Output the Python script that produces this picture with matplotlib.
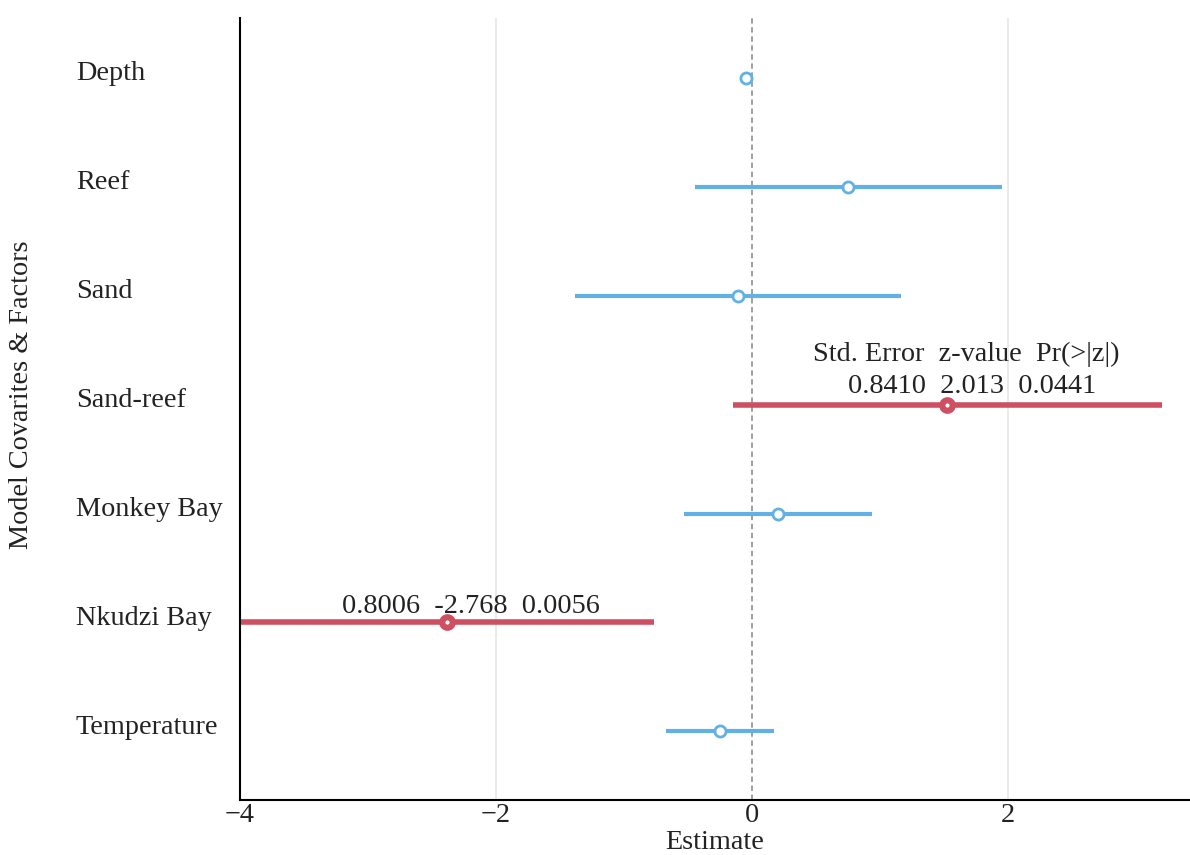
import matplotlib
matplotlib.use("Agg")
import matplotlib.pyplot as plt
import matplotlib.transforms as mtransforms

plt.rcParams['font.family'] = ['Liberation Serif', 'DejaVu Serif']
plt.rcParams['mathtext.fontset'] = 'stix'

factors = ["Depth", "Reef", "Sand", "Sand-reef", "Monkey Bay", "Nkudzi Bay", "Temperature"]
estimates = [-0.05, 0.75, -0.11, 1.52, 0.20, -2.38, -0.25]
ci_low = [-0.06, -0.45, -1.38, -0.15, -0.53, -4.10, -0.67]
ci_high = [-0.04, 1.95, 1.16, 3.20, 0.94, -0.77, 0.17]
significant = [False, False, False, True, False, True, False]
annotations = {
    "Sand-reef": ["Std. Error  z-value  Pr(>|z|)", "0.8410  2.013  0.0441"],
    "Nkudzi Bay": ["0.8006  -2.768  0.0056"],
}
xticks = [-4, -2, 0, 2]

BLUE = "#62B1E4"
RED = "#CE4F61"
FS = 20.3

fig = plt.figure(figsize=(11.9, 8.55), dpi=100, facecolor="white")
ax = fig.add_axes([240/1190, 1-800/855, 950/1190, (800-18)/855])

n = len(factors)
ypos = [n - 1 - i for i in range(n)]

for g in [-2, 2]:
    ax.axvline(g, color="#e6e6e6", lw=1.2, zorder=0)
ax.axvline(0, color="#999999", lw=1.3, ls=(0, (3, 2)), zorder=1)

for f, y, est, lo, hi, sig in zip(factors, ypos, estimates, ci_low, ci_high, significant):
    if sig:
        ax.plot([lo, hi], [y, y], color=RED, lw=4, solid_capstyle="butt", zorder=2)
        ax.plot(est, y, 'o', ms=11, mfc=RED, mec=RED, zorder=3)
        ax.plot(est, y, 'o', ms=2, mfc="white", mec="white", zorder=4)
    else:
        ax.plot([lo, hi], [y, y], color=BLUE, lw=3, solid_capstyle="butt", zorder=2)
        ax.plot(est, y, 'o', ms=8, mfc="white", mec=BLUE, mew=2, zorder=3)

# annotations
ysr = ypos[factors.index("Sand-reef")]
ax.text(1.67, ysr + 0.40, annotations["Sand-reef"][0], ha="center", va="baseline", fontsize=FS, color="#222222")
ax.text(1.72, ysr + 0.11, annotations["Sand-reef"][1], ha="center", va="baseline", fontsize=FS, color="#222222")
ynk = ypos[factors.index("Nkudzi Bay")]
ax.text(-2.20, ynk + 0.085, annotations["Nkudzi Bay"][0], ha="center", va="baseline", fontsize=FS, color="#222222")

# factor labels
trans = mtransforms.blended_transform_factory(fig.transFigure, ax.transData)
for f, y in zip(factors, ypos):
    ax.text(76/1190, y - 0.02, f, transform=trans, ha="left", va="baseline",
            fontsize=FS, color="#222222", clip_on=False)

ax.set_xlim(-4, 3.42)
ax.set_ylim(-0.63, n - 1 + 0.55)
ax.set_xticks(xticks)
ax.set_yticks([])
ax.tick_params(axis="x", length=0, labelsize=FS, pad=2, colors="#222222")
for s in ["top", "right"]:
    ax.spines[s].set_visible(False)
ax.spines["left"].set_linewidth(1.5)
ax.spines["bottom"].set_linewidth(1.5)
ax.set_xlabel("Estimate", fontsize=FS, labelpad=1.5, color="#222222")
fig.text(22/1190, 1-395/855, "Model Covarites & Factors", rotation=90, ha="center", va="center",
         fontsize=FS, color="#222222")

fig.savefig("out.png", dpi=100, facecolor="white")
